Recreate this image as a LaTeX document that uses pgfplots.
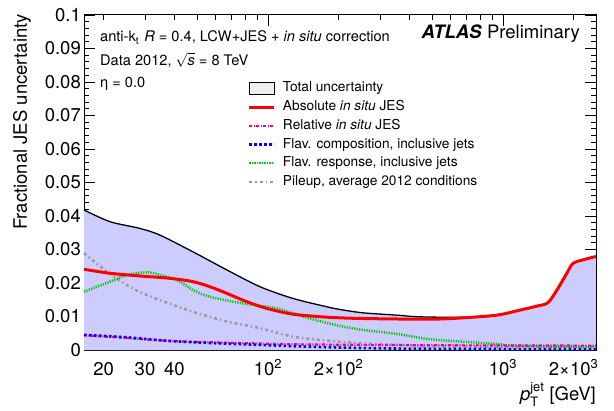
\documentclass[border=0pt]{standalone}
\usepackage{fontspec}
\setmainfont{TeX Gyre Heros}
\usepackage{amsmath}
\usepackage{pgfplots}
\pgfplotsset{compat=1.18}

\definecolor{lav}{RGB}{204,204,255}
\definecolor{grn}{RGB}{10,200,10}
\definecolor{pug}{RGB}{155,155,155}
\definecolor{legfill}{RGB}{238,238,238}

\begin{document}
\begin{tikzpicture}
\begin{axis}[
  name=ax, scale only axis, width=512bp, height=335bp,
  xmode=log, xmin=16.5, xmax=2490, ymin=0, ymax=0.1,
  axis line style={line width=1bp, black},
  tick style={line width=0.8bp, black},
  tick align=inside,
  major tick length=11bp, minor tick length=5.5bp,
  xtick={100,1000}, xticklabels={10\textsuperscript{2},10\textsuperscript{3}},
  extra x ticks={20,30,40,200,2000},
  extra x tick labels={20,30,40,2×10\textsuperscript{2},2×10\textsuperscript{3}},
  extra x tick style={grid=none, major tick length=5.5bp},
  minor xtick={50,60,70,80,90,300,400,500,600,700,800,900},
  ytick={0,0.01,0.02,0.03,0.04,0.05,0.06,0.07,0.08,0.09,0.1},
  yticklabels={0,0.01,0.02,0.03,0.04,0.05,0.06,0.07,0.08,0.09,0.1},
  scaled y ticks=false,
  minor y tick num=4,
  tick label style={font=\fontsize{18.5bp}{20bp}\selectfont},
  xticklabel style={text height=13bp, text depth=0pt, inner ysep=12bp},
  yticklabel style={inner xsep=3bp},
  clip=false,
  legend cell align=left,
  legend style={at={(0.3203,0.803)}, anchor=north west, draw=none, fill=none,
    inner sep=0pt, outer sep=0pt, row sep=4bp, column sep=7bp,
    font=\fontsize{13.7bp}{16bp}\selectfont,
    nodes={inner sep=0pt, text height=11bp, text depth=3.7bp}},
  legend image code/.code={\draw[#1] (0bp,0bp) -- (25bp,0bp);},
]
% Total uncertainty (filled)
\addplot[draw=none, fill=lav, smooth, forget plot] coordinates {
(16.5,0.0418) (21.3,0.0383) (28.5,0.0363) (34.7,0.0343) (48.0,0.0293) (66.9,0.0239)
(92.5,0.0189) (127.7,0.0154) (178.3,0.0129) (202.5,0.0121) (253.6,0.0111) (353.8,0.0104)
(443.3,0.0099) (675.6,0.0098) (942.7,0.0105) (1181,0.0120) (1395,0.0132) (1553,0.0142)
(1698,0.0180) (1871,0.0230) (1985,0.0259) (2189,0.0270) (2488,0.0280)
} \closedcycle;
\addplot[black, line width=1.3bp, smooth, forget plot] coordinates {
(16.5,0.0418) (21.3,0.0383) (28.5,0.0363) (34.7,0.0343) (48.0,0.0293) (66.9,0.0239)
(92.5,0.0189) (127.7,0.0154) (178.3,0.0129) (202.5,0.0121) (253.6,0.0111) (353.8,0.0104)
(443.3,0.0099) (675.6,0.0098) (942.7,0.0105) (1181,0.0120) (1395,0.0132) (1553,0.0142)
(1698,0.0180) (1871,0.0230) (1985,0.0259) (2189,0.0270) (2488,0.0280)
};
% Pileup
\addplot[pug, line width=2.5bp, dash pattern=on 3bp off 3bp on 1.5bp off 3bp, smooth, forget plot] coordinates {
(16.5,0.0289) (20.7,0.0234) (25.1,0.0194) (29.4,0.0169) (34.7,0.0149) (48,0.0114)
(66.9,0.0085) (92.5,0.0065) (127.7,0.0040) (178.3,0.0028) (253.6,0.0020) (353.8,0.0015)
(488.9,0.0012) (675.6,0.0010) (1200,0.0009) (2488,0.0008)
};
% Flavour response
\addplot[grn, line width=2.6bp, dash pattern=on 1.2bp off 1.3bp, smooth, forget plot] coordinates {
(16.5,0.0174) (21.3,0.0204) (25.1,0.0224) (30.5,0.0232) (34.7,0.0224) (41,0.0209)
(48,0.0179) (56.6,0.0159) (78.3,0.0139) (109.2,0.0124) (150.9,0.0094) (202.5,0.0072)
(253.6,0.0060) (353.8,0.0048) (488.9,0.0032) (675.6,0.0025) (942.7,0.0018) (1103,0.0013)
(1799,0.0010) (2488,0.0010)
};
% Relative in situ
\addplot[magenta, line width=2.2bp, dash pattern=on 3bp off 1.5bp on 1bp off 1.5bp, smooth, forget plot] coordinates {
(16.5,0.0044) (25,0.0036) (42,0.0026) (112,0.0018) (184,0.0016) (600,0.0014) (2488,0.0013)
};
% Flavour composition
\addplot[blue, line width=2.6bp, dash pattern=on 2.5bp off 2.5bp, smooth, forget plot] coordinates {
(16.5,0.0045) (25,0.0038) (42,0.0025) (112,0.0013) (184,0.0008) (400,0.0004) (2488,0.0002)
};
% Absolute in situ
\addplot[red, line width=3bp, smooth, forget plot] coordinates {
(16.5,0.0241) (21.3,0.0229) (28.5,0.0221) (38.3,0.0214) (48,0.0204) (56.6,0.0189)
(66.9,0.0169) (81.5,0.0144) (99.1,0.0124) (127.7,0.0107) (178.3,0.0098) (253.6,0.0094)
(488.9,0.0092) (675.6,0.0096) (942.7,0.0104) (1181,0.0119) (1395,0.0131) (1553,0.0141)
(1698,0.0179) (1871,0.0229) (1985,0.0258) (2189,0.0269) (2488,0.0279)
};

\addlegendimage{legend image code/.code={\draw[black, fill=legfill, line width=0.8bp] (0bp,-6bp) rectangle (25bp,6bp);}}
\addlegendentry{Total uncertainty}
\addlegendimage{red, line width=3bp}
\addlegendentry{Absolute \textit{in situ} JES}
\addlegendimage{magenta, line width=2.2bp, dash pattern=on 3bp off 1.5bp on 1bp off 1.5bp}
\addlegendentry{Relative \textit{in situ} JES}
\addlegendimage{blue, line width=2.6bp, dash pattern=on 2.5bp off 2.5bp}
\addlegendentry{Flav. composition, inclusive jets}
\addlegendimage{grn, line width=2.6bp, dash pattern=on 1.2bp off 1.3bp}
\addlegendentry{Flav. response, inclusive jets}
\addlegendimage{pug, line width=2.5bp, dash pattern=on 3bp off 3bp on 1.5bp off 3bp}
\addlegendentry{Pileup, average 2012 conditions}

\node[anchor=base west, inner sep=0pt, font=\fontsize{14.6bp}{16bp}\selectfont] at (rel axis cs:0.03125,0.9194)
  {anti-k\textsubscript{t}\kern1bp\ \textit{R} = 0.4, LCW+JES + \textit{in situ} correction};
\node[anchor=base west, inner sep=0pt, font=\fontsize{14.6bp}{16bp}\selectfont] at (rel axis cs:0.03125,0.8507)
  {Data 2012, $\sqrt{\text{\textit{s}}}$ = 8 TeV};
\node[anchor=base west, inner sep=0pt, font=\fontsize{14.6bp}{16bp}\selectfont] at (rel axis cs:0.03125,0.7821)
  {η = 0.0};
\node[anchor=base east, inner sep=0pt, font=\fontsize{18.5bp}{20bp}\selectfont] at (rel axis cs:0.96875,0.9313)
  {\textbf{\textit{ATLAS}} Preliminary};
\node[rotate=90, anchor=east, inner sep=0pt, font=\fontsize{18.5bp}{20bp}\selectfont] at (rel axis cs:-0.121,1.003)
  {Fractional JES uncertainty};
\node[anchor=base east, inner sep=0pt, font=\fontsize{18.5bp}{20bp}\selectfont] at (rel axis cs:1,-0.150)
  {$\text{\textit{p}}_{\text{T}}^{\text{jet}}$ [GeV]};
\end{axis}
\pgfresetboundingbox
\path ([shift={(-84bp,-61bp)}]ax.south west) rectangle ([shift={(18bp,15bp)}]ax.north east);
\end{tikzpicture}
\end{document}
